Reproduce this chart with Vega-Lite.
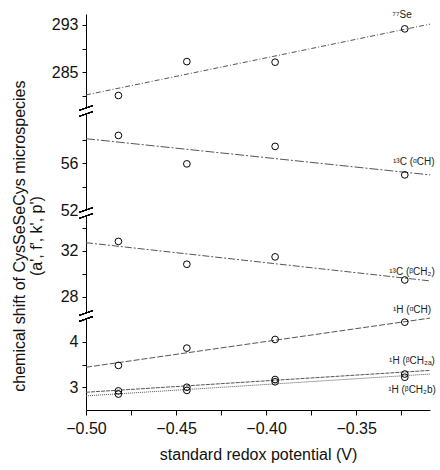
{
  "$schema": "https://vega.github.io/schema/vega-lite/v6.json",
  "background": "white",
  "padding": {"left": 12, "top": 10, "right": 2, "bottom": 2},
  "bounds": "flush",
  "config": {
    "font": "Liberation Sans",
    "view": {"stroke": null},
    "concat": {"spacing": 6},
    "axis": {"domainColor": "black", "tickColor": "black", "labelColor": "#111", "titleColor": "#111", "labelFont": "Liberation Sans", "titleFont": "Liberation Sans", "labelFontSize": 16, "titleFontSize": 16, "titleFontWeight": "normal", "grid": false, "tickSize": 4, "labelPadding": 4},
    "point": {"filled": false, "stroke": "black", "strokeWidth": 1, "size": 45, "opacity": 1},
    "text": {"fontSize": 10, "color": "#222", "font": "Liberation Sans"}
  },
  "title": {"text": ["chemical shift of CysSeSeCys microspecies", "(a', f', k', p')"], "orient": "left", "anchor": "middle", "fontSize": 16, "fontWeight": "normal", "font": "Liberation Sans", "color": "#111", "offset": 6, "lineHeight": 17},
  "spacing": 6,
  "resolve": {"scale": {"y": "independent"}},
  "datasets": {
    "se": [
      {"kind": "pt", "s": "Se", "x": -0.482, "y": 281.1},
      {"kind": "pt", "s": "Se", "x": -0.444, "y": 286.8},
      {"kind": "pt", "s": "Se", "x": -0.395, "y": 286.7},
      {"kind": "pt", "s": "Se", "x": -0.323, "y": 292.3},
      {"kind": "fit", "s": "Se", "x": -0.5, "y": 281.2},
      {"kind": "fit", "s": "Se", "x": -0.309, "y": 293.1},
      {"kind": "lab", "s": "Se", "x": -0.3245, "y": 294.6, "t": "⁷⁷Se"}
    ],
    "ca": [
      {"kind": "pt", "s": "Ca", "x": -0.482, "y": 58.37},
      {"kind": "pt", "s": "Ca", "x": -0.444, "y": 55.94},
      {"kind": "pt", "s": "Ca", "x": -0.395, "y": 57.43},
      {"kind": "pt", "s": "Ca", "x": -0.323, "y": 55.0},
      {"kind": "fit", "s": "Ca", "x": -0.5, "y": 58.09},
      {"kind": "fit", "s": "Ca", "x": -0.309, "y": 55.0},
      {"kind": "lab", "s": "Ca", "x": -0.318, "y": 56.1, "t": "¹³C (ᵅCH)"}
    ],
    "cb": [
      {"kind": "pt", "s": "Cb", "x": -0.482, "y": 32.8},
      {"kind": "pt", "s": "Cb", "x": -0.444, "y": 30.82},
      {"kind": "pt", "s": "Cb", "x": -0.395, "y": 31.46},
      {"kind": "pt", "s": "Cb", "x": -0.323, "y": 29.46},
      {"kind": "fit", "s": "Cb", "x": -0.5, "y": 32.69},
      {"kind": "fit", "s": "Cb", "x": -0.309, "y": 29.38},
      {"kind": "lab", "s": "Cb", "x": -0.319, "y": 30.16, "t": "¹³C (ᵝCH₂)"}
    ],
    "h": [
      {"kind": "pt", "s": "Ha", "x": -0.482, "y": 3.48},
      {"kind": "pt", "s": "Ha", "x": -0.444, "y": 3.86},
      {"kind": "pt", "s": "Ha", "x": -0.395, "y": 4.05},
      {"kind": "pt", "s": "Ha", "x": -0.323, "y": 4.43},
      {"kind": "fit", "s": "Ha", "x": -0.5, "y": 3.44},
      {"kind": "fit", "s": "Ha", "x": -0.309, "y": 4.52},
      {"kind": "pt", "s": "Hba", "x": -0.482, "y": 2.92},
      {"kind": "pt", "s": "Hba", "x": -0.444, "y": 3.0},
      {"kind": "pt", "s": "Hba", "x": -0.395, "y": 3.17},
      {"kind": "pt", "s": "Hba", "x": -0.323, "y": 3.29},
      {"kind": "fit", "s": "Hba", "x": -0.5, "y": 2.89},
      {"kind": "fit", "s": "Hba", "x": -0.309, "y": 3.37},
      {"kind": "pt", "s": "Hbb", "x": -0.482, "y": 2.85},
      {"kind": "pt", "s": "Hbb", "x": -0.444, "y": 2.93},
      {"kind": "pt", "s": "Hbb", "x": -0.395, "y": 3.12},
      {"kind": "pt", "s": "Hbb", "x": -0.323, "y": 3.22},
      {"kind": "fit", "s": "Hbb", "x": -0.5, "y": 2.81},
      {"kind": "fit", "s": "Hbb", "x": -0.309, "y": 3.29},
      {"kind": "lab", "s": "Ha", "x": -0.319, "y": 4.7, "t": "¹H (ᵅCH)"},
      {"kind": "lab", "s": "Hba", "x": -0.319, "y": 3.57, "t": "¹H (ᵝCH₂ₐ)"},
      {"kind": "lab", "s": "Hbb", "x": -0.319, "y": 2.93, "t": "¹H (ᵝCH₂b)"}
    ]
  },
  "vconcat": [
    {
      "width": 344, "height": 94,
      "data": {"name": "se"},
      "encoding": {
        "x": {"field": "x", "type": "quantitative", "scale": {"domain": [-0.5, -0.309], "nice": false, "zero": false}, "axis": null},
        "y": {"field": "y", "type": "quantitative", "scale": {"domain": [279.0, 294.8], "nice": false, "zero": false},
              "axis": {"title": null, "values": [281, 285, 289, 293], "format": ".0f", "labelExpr": "datum.value == 285 || datum.value == 293 ? datum.label : ''"}}
      },
      "layer": [
        {"transform": [{"filter": "datum.kind == 'fit'"}], "mark": {"type": "line", "color": "#555", "strokeWidth": 1, "strokeDash": [5, 2, 1, 2]}},
        {"transform": [{"filter": "datum.kind == 'pt'"}], "mark": {"type": "point"}},
        {"transform": [{"filter": "datum.kind == 'lab'"}], "mark": {"type": "text", "baseline": "middle"}, "encoding": {"text": {"field": "t"}}},
        {"mark": {"type": "point", "shape": "M-1,0.35L1,-0.35", "size": 196, "stroke": "black", "strokeWidth": 1, "filled": false}, "encoding": {"x": {"datum": -0.5}, "y": {"datum": 279.0}}}
      ]
    },
    {
      "width": 344, "height": 96,
      "data": {"name": "ca"},
      "encoding": {
        "x": {"field": "x", "type": "quantitative", "scale": {"domain": [-0.5, -0.309], "nice": false, "zero": false}, "axis": null},
        "y": {"field": "y", "type": "quantitative", "scale": {"domain": [52, 60.2], "nice": false, "zero": false},
              "axis": {"title": null, "values": [52, 54, 56, 58], "format": ".0f", "labelExpr": "datum.value == 52 || datum.value == 56 ? datum.label : ''"}}
      },
      "layer": [
        {"transform": [{"filter": "datum.kind == 'fit'"}], "mark": {"type": "line", "color": "#555", "strokeWidth": 1, "strokeDash": [9, 2, 2, 2]}},
        {"transform": [{"filter": "datum.kind == 'pt'"}], "mark": {"type": "point"}},
        {"transform": [{"filter": "datum.kind == 'lab'"}], "mark": {"type": "text", "baseline": "middle"}, "encoding": {"text": {"field": "t"}}},
        {"mark": {"type": "point", "shape": "M-1,0.35L1,-0.35", "size": 196, "stroke": "black", "strokeWidth": 1, "filled": false}, "encoding": {"x": {"datum": -0.5}, "y": {"datum": 60.2}}},
        {"mark": {"type": "point", "shape": "M-1,0.35L1,-0.35", "size": 196, "stroke": "black", "strokeWidth": 1, "filled": false}, "encoding": {"x": {"datum": -0.5}, "y": {"datum": 52}}}
      ]
    },
    {
      "width": 344, "height": 97,
      "data": {"name": "cb"},
      "encoding": {
        "x": {"field": "x", "type": "quantitative", "scale": {"domain": [-0.5, -0.309], "nice": false, "zero": false}, "axis": null},
        "y": {"field": "y", "type": "quantitative", "scale": {"domain": [26.6, 35.0], "nice": false, "zero": false},
              "axis": {"title": null, "values": [28, 30, 32, 34], "format": ".0f", "labelExpr": "datum.value == 28 || datum.value == 32 ? datum.label : ''"}}
      },
      "layer": [
        {"transform": [{"filter": "datum.kind == 'fit'"}], "mark": {"type": "line", "color": "#555", "strokeWidth": 1, "strokeDash": [7, 2, 2, 2]}},
        {"transform": [{"filter": "datum.kind == 'pt'"}], "mark": {"type": "point"}},
        {"transform": [{"filter": "datum.kind == 'lab'"}], "mark": {"type": "text", "baseline": "middle"}, "encoding": {"text": {"field": "t"}}},
        {"mark": {"type": "point", "shape": "M-1,0.35L1,-0.35", "size": 196, "stroke": "black", "strokeWidth": 1, "filled": false}, "encoding": {"x": {"datum": -0.5}, "y": {"datum": 35.0}}},
        {"mark": {"type": "point", "shape": "M-1,0.35L1,-0.35", "size": 196, "stroke": "black", "strokeWidth": 1, "filled": false}, "encoding": {"x": {"datum": -0.5}, "y": {"datum": 26.6}}}
      ]
    },
    {
      "width": 344, "height": 91,
      "data": {"name": "h"},
      "encoding": {
        "x": {"field": "x", "type": "quantitative", "scale": {"domain": [-0.5, -0.309], "nice": false, "zero": false},
              "axis": {"title": "standard redox potential (V)", "values": [-0.5, -0.475, -0.45, -0.425, -0.4, -0.375, -0.35, -0.325], "format": ".2f", "labelExpr": "abs(datum.value * 100 % 5) < 0.01 ? datum.label : ''", "labelPadding": 5, "titlePadding": 10, "labelFlush": false, "tickSize": 5}},
        "y": {"field": "y", "type": "quantitative", "scale": {"domain": [2.5, 4.5], "nice": false, "zero": false},
              "axis": {"title": null, "values": [3, 3.5, 4], "format": ".0f", "labelExpr": "datum.value == 3 || datum.value == 4 ? datum.label : ''"}}
      },
      "layer": [
        {"transform": [{"filter": "datum.kind == 'fit'"}], "mark": {"type": "line", "color": "#555", "strokeWidth": 1},
         "encoding": {"detail": {"field": "s"}, "strokeDash": {"field": "s", "type": "nominal", "scale": {"domain": ["Ha", "Hba", "Hbb"], "range": [[6, 2], [4, 1], [1, 1]]}, "legend": null}}},
        {"transform": [{"filter": "datum.kind == 'pt'"}], "mark": {"type": "point"}},
        {"transform": [{"filter": "datum.kind == 'lab'"}], "mark": {"type": "text", "baseline": "middle"}, "encoding": {"text": {"field": "t"}}},
        {"mark": {"type": "point", "shape": "M-1,0.35L1,-0.35", "size": 196, "stroke": "black", "strokeWidth": 1, "filled": false}, "encoding": {"x": {"datum": -0.5}, "y": {"datum": 4.5}}}
      ]
    }
  ]
}
